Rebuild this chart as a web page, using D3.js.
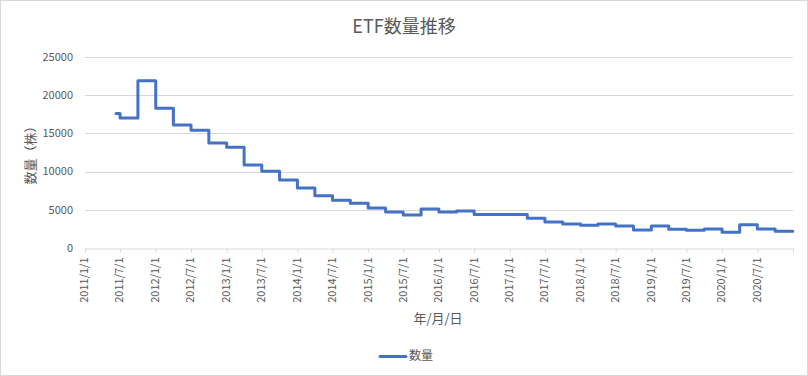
<!DOCTYPE html>
<html>
<head>
<meta charset="utf-8">
<script src="https://cdn.jsdelivr.net/npm/d3@7"></script>
<style>
  body { margin: 0; background: #fff; }
  svg { display: block; font-family: "Noto Sans CJK JP", "Noto Sans", sans-serif; }
</style>
</head>
<body>
<svg id="chart"></svg>
<script>
// Données (trimestrielles, en marches)
const dates = ["2011/6/10", "2011/7/1", "2011/10/1", "2012/1/1", "2012/4/1", "2012/7/1", "2012/10/1",
    "2013/1/1", "2013/4/1", "2013/7/1", "2013/10/1", "2014/1/1", "2014/4/1", "2014/7/1", "2014/10/1",
    "2015/1/1", "2015/4/1", "2015/7/1", "2015/10/1", "2016/1/1", "2016/4/1", "2016/7/1", "2016/10/1",
    "2017/1/1", "2017/4/1", "2017/7/1", "2017/10/1", "2018/1/1", "2018/4/1", "2018/7/1", "2018/10/1",
    "2019/1/1", "2019/4/1", "2019/7/1", "2019/10/1", "2020/1/1", "2020/4/1", "2020/7/1", "2020/10/1",
    "2020/12/31"];
const counts = [17600, 17000, 21900, 18300, 16100, 15400, 13750,
    13200, 10850, 10050, 8900, 7850, 6850, 6250, 5850,
    5250, 4700, 4330, 5100, 4720, 4850, 4370, 4370,
    4370, 3880, 3400, 3150, 2970, 3140, 2880, 2370,
    2880, 2440, 2320, 2500, 2060, 3050, 2500, 2180,
    2180];
const yTicks = [0, 5000, 10000, 15000, 20000, 25000];
const xDomain = ["2011/1/1", "2021/1/1"];
const seriesName = "数量";

const width = 808;
const height = 376;
const parse = d3.timeParse("%Y/%-m/%-d");
const fmt = d3.timeFormat("%Y/%-m/%-d");
const data = dates.map((d, i) => ({ date: parse(d), value: counts[i] }));

const svg = d3.select("#chart")
    .attr("width", width)
    .attr("height", height);

// cadre
svg.append("rect")
    .attr("x", 0.5).attr("y", 0.5)
    .attr("width", width - 1).attr("height", height - 1)
    .attr("fill", "#fff")
    .attr("stroke", "#d9d9d9");

const x = d3.scaleTime()
    .domain(xDomain.map(parse))
    .range([85, 793]);

const y = d3.scaleLinear()
    .domain([0, 25000])
    .range([248, 57]);

// titre
svg.append("text")
    .attr("x", 404)
    .attr("y", 33)
    .attr("text-anchor", "middle")
    .attr("font-size", "18px")
    .attr("fill", "#595959")
    .text("ETF数量推移");

// grille horizontale
svg.append("g")
    .selectAll("line")
    .data(yTicks.slice(1))
    .enter().append("line")
    .attr("x1", x.range()[0])
    .attr("x2", x.range()[1])
    .attr("y1", d => Math.round(y(d)) + 0.5)
    .attr("y2", d => Math.round(y(d)) + 0.5)
    .attr("stroke", "#d9d9d9")
    .attr("stroke-width", 1);

// étiquettes Y
svg.append("g")
    .selectAll("text")
    .data(yTicks)
    .enter().append("text")
    .attr("x", 73)
    .attr("y", d => y(d))
    .attr("dy", "0.35em")
    .attr("text-anchor", "end")
    .attr("font-size", "11px")
    .attr("fill", "#595959")
    .text(d => d);

// axe X
const xTicks = d3.timeMonth.every(6).range(parse("2011/1/1"), parse("2020/12/1"));
const xAxis = d3.axisBottom(x)
    .tickValues(xTicks.concat([x.domain()[1]]))
    .tickSize(4)
    .tickFormat(d => d < x.domain()[1] ? fmt(d) : "");

const gx = svg.append("g")
    .attr("transform", `translate(0,${Math.round(y(0)) + 0.5})`)
    .call(xAxis);

gx.select(".domain").attr("stroke", "#d9d9d9");
gx.selectAll(".tick line").attr("stroke", "#d9d9d9");
gx.selectAll(".tick text")
    .attr("font-family", "\"Noto Sans CJK JP\", sans-serif")
    .attr("font-size", "11px")
    .attr("fill", "#595959")
    .attr("transform", "rotate(-90)")
    .attr("text-anchor", "end")
    .attr("x", -9)
    .attr("y", -1)
    .attr("dy", "0.35em");

// titres des axes
svg.append("text")
    .attr("x", 438)
    .attr("y", 323)
    .attr("text-anchor", "middle")
    .attr("font-size", "13px")
    .attr("fill", "#595959")
    .text("年/月/日");

svg.append("text")
    .attr("transform", "translate(35,152) rotate(-90)")
    .attr("text-anchor", "middle")
    .attr("font-size", "13px")
    .attr("fill", "#595959")
    .text("数量（株）");

// la courbe
const line = d3.line()
    .x(d => x(d.date))
    .y(d => y(d.value))
    .curve(d3.curveStepAfter);

svg.append("path")
    .datum(data)
    .attr("d", line)
    .attr("fill", "none")
    .attr("stroke", "#4472C4")
    .attr("stroke-width", 3)
    .attr("stroke-linejoin", "round")
    .attr("stroke-linecap", "round");

// légende
const legend = svg.append("g");
legend.append("line")
    .attr("x1", 380).attr("x2", 406)
    .attr("y1", 356.5).attr("y2", 356.5)
    .attr("stroke", "#4472C4")
    .attr("stroke-width", 3)
    .attr("stroke-linecap", "round");
legend.append("text")
    .attr("x", 409)
    .attr("y", 356)
    .attr("dy", "0.35em")
    .attr("font-size", "12px")
    .attr("fill", "#595959")
    .text(seriesName);
</script>
</body>
</html>
